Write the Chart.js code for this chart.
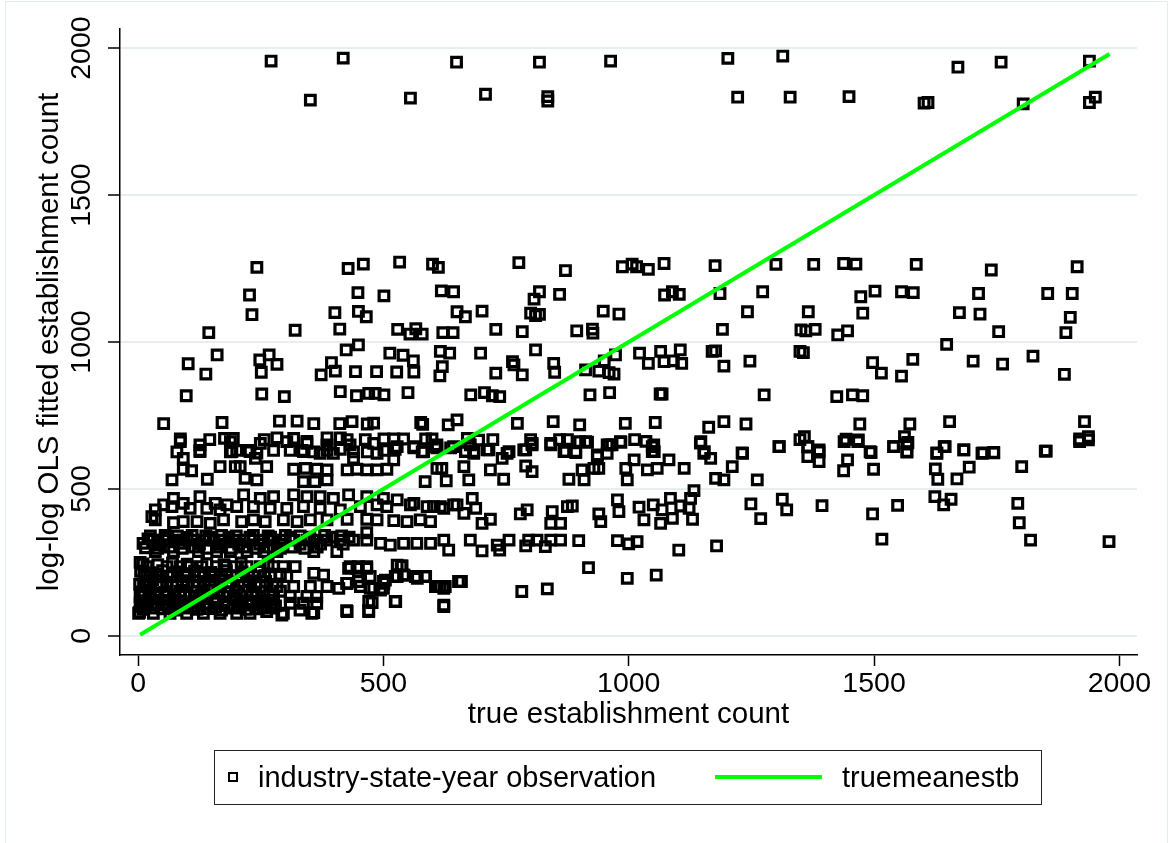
<!DOCTYPE html>
<html>
<head>
<meta charset="utf-8">
<script src="https://cdn.jsdelivr.net/npm/chart.js@4.4.0/dist/chart.umd.min.js"></script>
<style>
    html, body { margin: 0; padding: 0; background: #fff; overflow: hidden; }
    #wrap { position: relative; width: 1168px; height: 843px; }
    #frame { position: absolute; left: 5px; top: 1px; width: 1161px; height: 860px; border: 1px solid #e4ecef; }
    canvas { position: absolute; left: 0; top: 0; }
    #legend {
        position: absolute; left: 214px; top: 750px; width: 826px; height: 53px;
        border: 1.5px solid #222; font: 29px 'Liberation Sans', Arial, sans-serif; color: #000;
    }
    #legend span { position: absolute; }
    .lg-marker { left: 13px; top: 21px; width: 6px; height: 6px; border: 2.4px solid #000; }
    .lg-text { top: 0; line-height: 53px; white-space: nowrap; }
    .lg-line { left: 500px; top: 24px; width: 107px; height: 4px; background: #00ff00; }
</style>
</head>
<body>
<div id="wrap">
    <div id="frame"></div>
    <canvas id="chart" width="1168" height="843"></canvas>
    <div id="legend">
        <span class="lg-marker"></span>
        <span class="lg-text" style="left:43px">industry-state-year observation</span>
        <span class="lg-line"></span>
        <span class="lg-text" style="left:627px">truemeanestb</span>
    </div>
</div>
<script>
// values, [true count, fitted count]
const topBand = [
    [271, 1956], [351, 1823], [418, 1966], [555, 1830], [649, 1952], [708, 1843], [818, 1952],
    [835, 1835], [835, 1820], [963, 1956], [1202, 1965], [1222, 1833], [1314, 1973], [1329, 1833],
    [1449, 1835], [1602, 1813], [1610, 1815], [1671, 1935], [1759, 1952], [1804, 1810], [1939, 1956],
    [1939, 1815], [1951, 1833]
];

const highBand = [
    [242, 1254], [428, 1250], [459, 1265], [533, 1272], [600, 1265], [612, 1254],
    [227, 1160], [448, 1168], [501, 1157], [618, 1174], [643, 1171],
    [232, 1093], [401, 1100], [449, 1104], [465, 1086], [650, 1103],
    [144, 1032], [320, 1040], [411, 1044], [529, 1043], [554, 1027], [566, 1045], [579, 1027], [621, 1032], [642, 1032],
    [161, 956], [102, 926], [138, 891], [248, 939], [267, 956], [283, 924], [251, 897], [424, 973], [449, 990],
    [394, 930], [373, 888], [402, 901], [443, 899], [486, 899], [527, 898], [562, 898], [513, 962], [540, 955],
    [561, 936], [616, 968], [635, 962], [620, 916], [615, 885],
    [98, 817], [252, 823], [298, 814], [412, 831], [445, 817], [470, 825], [483, 825], [501, 820], [550, 828],
    [776, 1270], [871, 1243], [987, 1256], [1007, 1265], [1016, 1256], [1040, 1247], [1072, 1267], [1176, 1260], [1300, 1264],
    [818, 1171], [807, 1146], [859, 1162], [1073, 1160], [1089, 1171], [1103, 1162], [1186, 1165], [1273, 1171],
    [701, 1105], [667, 1086], [800, 1098], [810, 1090], [818, 1094], [948, 1105], [980, 1095], [1242, 1103],
    [729, 1043], [783, 1035], [894, 1038], [926, 1044], [927, 1030], [1191, 1043], [1351, 1041],
    [698, 962], [810, 973], [763, 933], [766, 922], [783, 888], [729, 894], [847, 927], [849, 897], [912, 905],
    [939, 901], [950, 936], [960, 896], [970, 891], [973, 956], [1022, 962], [1040, 927], [1065, 968], [1072, 933],
    [1091, 936], [1105, 973], [1108, 927], [1170, 968], [1177, 970], [1194, 918], [1247, 935], [1349, 968],
    [678, 820], [706, 828], [722, 817], [737, 814], [921, 820], [961, 828], [1064, 823], [1068, 823], [1276, 820],
    [1377, 1264], [1438, 1267], [1463, 1265], [1586, 1264], [1739, 1245], [1914, 1256],
    [1473, 1154], [1502, 1173], [1556, 1171], [1580, 1168], [1713, 1165], [1854, 1165], [1904, 1165],
    [1366, 1103], [1477, 1098], [1674, 1100], [1716, 1095], [1900, 1084],
    [1361, 1038], [1380, 1043], [1426, 1024], [1446, 1038], [1754, 1035], [1891, 1032], [1648, 992],
    [1356, 964], [1497, 930], [1515, 894], [1556, 884], [1579, 941], [1702, 935], [1762, 925], [1824, 952], [1888, 890],
    [1424, 814], [1456, 820], [1477, 817]
];

const midBand = [
    [52, 722], [171, 726], [288, 731], [324, 731], [358, 722], [411, 722], [436, 729], [467, 721], [480, 724],
    [576, 726], [580, 720], [632, 718], [650, 735],
    [86, 670], [146, 668], [176, 672], [194, 672], [257, 668], [283, 674], [317, 672], [344, 662], [385, 674],
    [412, 674], [426, 668], [463, 668], [501, 670], [521, 670], [541, 670], [586, 670], [599, 670],
    [79, 626], [126, 631], [188, 626], [201, 631], [225, 631], [242, 622], [276, 631], [310, 631], [334, 631],
    [358, 626], [385, 631], [412, 635], [439, 626], [467, 626], [501, 631], [524, 635], [562, 640], [579, 626],
    [609, 640], [637, 640],
    [773, 723], [846, 729], [900, 718], [993, 723], [1054, 726], [1163, 710], [1194, 729], [1239, 721],
    [671, 672], [694, 666], [723, 668], [800, 668], [859, 668], [875, 668], [900, 661], [916, 659], [984, 659],
    [1012, 668], [1035, 662], [1146, 656], [1349, 668],
    [667, 627], [684, 627], [715, 633], [756, 627], [786, 633], [803, 655], [841, 655], [871, 627], [892, 627],
    [936, 616], [956, 650], [966, 650], [1048, 644], [1052, 627], [1154, 627], [1231, 623], [1307, 644],
    [1471, 721], [1573, 721], [1654, 729], [1929, 729],
    [1358, 678], [1443, 669], [1468, 667], [1562, 678], [1569, 658], [1919, 670], [1937, 678],
    [1365, 644], [1388, 633], [1492, 627], [1540, 644], [1567, 627], [1628, 623], [1645, 644], [1683, 633],
    [1722, 623], [1744, 623], [1849, 629],
    [86, 661], [126, 650], [188, 661], [249, 655], [303, 661], [344, 655], [385, 650], [432, 650], [480, 655],
    [528, 644], [562, 644], [609, 650], [643, 644],
    [92, 604], [126, 627], [191, 627], [228, 627], [239, 604], [337, 627], [371, 621], [398, 621], [439, 604],
    [487, 621], [521, 599], [582, 627], [606, 644],
    [92, 567], [109, 562], [167, 576], [198, 576], [208, 576], [262, 576], [317, 567], [341, 570], [364, 567],
    [385, 565], [426, 565], [446, 567], [466, 565], [487, 565], [507, 567], [609, 570], [619, 570],
    [69, 531], [141, 533], [218, 536], [242, 531], [337, 525], [360, 525], [385, 531], [585, 525], [628, 528],
    [677, 650], [711, 633], [752, 621], [790, 633], [803, 650], [841, 650], [868, 627], [892, 624], [912, 661],
    [936, 610], [956, 621], [960, 650], [983, 661], [1011, 599], [1048, 627], [1051, 650], [1082, 599],
    [1147, 661], [1153, 621], [1167, 604], [1232, 621], [1306, 644], [667, 627], [684, 621],
    [664, 576], [674, 531], [718, 565], [742, 604], [745, 533], [790, 578], [803, 559], [878, 533], [905, 565],
    [909, 531], [929, 570], [939, 570], [994, 570], [997, 531], [1038, 565], [1058, 570], [1113, 570],
    [1177, 536], [1194, 531], [1211, 576], [1262, 531],
    [1365, 644], [1365, 610], [1388, 627], [1388, 593], [1439, 661], [1467, 661], [1494, 624], [1446, 599],
    [1438, 562], [1499, 567], [1540, 644], [1567, 653], [1567, 625], [1628, 621], [1643, 644], [1683, 633],
    [1720, 621], [1744, 624], [1851, 629], [1919, 661], [1937, 667], [1625, 568], [1630, 533], [1669, 534],
    [1694, 574], [1801, 576]
];

const lowMidBand = [
    [52, 446], [72, 468], [92, 451], [126, 474], [157, 451], [181, 446], [215, 480], [249, 468], [276, 474],
    [317, 480], [344, 474], [371, 474], [398, 468], [429, 480], [466, 474], [500, 468], [528, 463], [562, 451],
    [589, 440], [616, 440], [643, 446],
    [35, 429], [69, 440], [106, 434], [140, 434], [167, 429], [201, 440], [235, 440], [269, 434], [303, 434],
    [337, 440], [371, 434], [412, 429], [453, 440], [487, 446], [507, 440], [555, 446], [602, 440], [623, 434],
    [650, 446],
    [35, 395], [72, 385], [92, 389], [120, 389], [147, 383], [174, 395], [211, 389], [235, 395], [259, 389],
    [296, 395], [324, 389], [351, 395], [385, 395], [426, 397], [466, 397], [487, 395], [521, 392], [548, 389],
    [575, 395], [596, 389], [28, 406],
    [681, 468], [688, 434], [664, 417], [701, 383], [718, 397], [779, 415], [793, 429], [844, 423], [841, 383],
    [861, 383], [875, 440], [885, 442], [939, 415], [943, 389], [977, 463], [980, 423], [1021, 438], [1031, 395],
    [1050, 446], [1065, 383], [1068, 429], [1085, 468], [1089, 400], [1106, 442], [1123, 434], [1130, 397],
    [1133, 494], [1126, 468], [1249, 449], [1269, 399], [1313, 465], [1322, 429],
    [1394, 443], [1497, 415], [1548, 444], [1624, 474], [1642, 446], [1657, 465], [1793, 451], [1796, 385]
];

const band320 = [
    [31, 326], [52, 326], [72, 326], [92, 326], [113, 326], [133, 326], [154, 326], [174, 326], [194, 326],
    [215, 326], [235, 326], [256, 326], [276, 326], [296, 326], [317, 326], [344, 326], [358, 326], [385, 326],
    [412, 326], [439, 326], [466, 326], [494, 315], [514, 309], [541, 315], [568, 315], [596, 315], [623, 326],
    [633, 292],
    [35, 287], [72, 287], [123, 287], [160, 287], [188, 287], [222, 287], [256, 287], [283, 287], [358, 287],
    [405, 287], [466, 351],
    [10, 315], [20, 330], [45, 310], [60, 335], [85, 315], [100, 335], [125, 312], [145, 336], [165, 312],
    [185, 336], [205, 312], [228, 336], [248, 312], [270, 336], [290, 312], [310, 336], [330, 312], [350, 336],
    [372, 312], [395, 336], [418, 312], [430, 336],
    [15, 300], [40, 298], [65, 302], [90, 298], [115, 302], [140, 298], [165, 302], [190, 298], [215, 302],
    [240, 298], [265, 302], [290, 298], [315, 302], [340, 298], [365, 302],
    [25, 340], [55, 342], [80, 340], [110, 342], [138, 340], [170, 342], [200, 340], [235, 342], [265, 340],
    [300, 342], [330, 340], [380, 342], [415, 340],
    [677, 326], [701, 289], [732, 309], [737, 292], [756, 326], [790, 306], [796, 326], [813, 326], [830, 304],
    [841, 326], [861, 326], [898, 324], [977, 324], [1000, 313], [1017, 321], [1102, 292], [1179, 306],
    [1516, 329], [1819, 326], [1979, 321]
];

const lowBand = [
    [18, 236], [59, 236], [86, 236], [106, 236], [130, 236], [160, 236], [177, 236], [198, 236], [222, 236],
    [249, 236], [276, 236], [296, 236], [320, 236], [432, 236], [449, 236], [466, 236], [538, 238],
    [18, 202], [38, 202], [65, 202], [99, 202], [133, 202], [167, 202], [201, 202], [235, 202], [269, 202],
    [303, 202], [358, 213], [378, 207], [426, 179], [449, 202], [473, 202], [504, 190], [528, 202], [541, 207],
    [565, 202], [585, 202], [653, 185],
    [11, 168], [45, 168], [79, 168], [113, 168], [147, 168], [181, 168], [215, 168], [249, 168], [283, 168],
    [317, 168], [351, 168], [385, 168], [409, 162], [453, 168], [473, 162], [500, 162], [606, 168], [616, 168],
    [626, 168],
    [4, 134], [38, 134], [72, 134], [106, 134], [140, 134], [174, 134], [208, 134], [242, 134], [276, 134],
    [310, 134], [344, 134], [364, 134],
    [4, 111], [38, 111], [72, 111], [106, 111], [140, 111], [174, 111], [208, 111], [242, 111], [276, 111],
    [310, 111], [337, 111], [364, 111], [477, 113], [524, 117], [623, 105],
    [1, 77], [31, 77], [65, 77], [99, 77], [133, 77], [167, 77], [201, 77], [228, 77], [262, 83], [296, 77],
    [358, 79], [426, 83], [470, 83],
    [429, 230], [446, 230], [466, 230], [425, 179], [449, 185], [480, 162], [500, 185], [524, 202], [528, 241],
    [470, 117], [425, 86], [470, 86], [354, 77], [293, 71], [330, 88],
    [536, 238], [527, 202], [542, 207], [569, 196], [586, 202], [610, 168], [623, 162], [659, 185], [525, 117],
    [623, 100], [782, 151], [834, 160], [918, 232], [997, 196], [1056, 207], [501, 179], [494, 156],
    [10, 90], [28, 95], [50, 92], [75, 88], [95, 95], [120, 90], [145, 93], [170, 88], [195, 95], [220, 90],
    [245, 92], [270, 95],
    [8, 150], [25, 155], [55, 148], [85, 152], [118, 150], [150, 155], [185, 148], [220, 152], [255, 150], [290, 152],
    [15, 185], [30, 190], [58, 183], [90, 188], [122, 185], [155, 190], [190, 183], [225, 188], [260, 185],
    [5, 220], [25, 215], [50, 222], [80, 218], [115, 220], [148, 216], [180, 222], [212, 218], [245, 220],
    [5, 120], [22, 125], [48, 122], [88, 118], [125, 124], [160, 120], [195, 124], [230, 118], [265, 122],
    [3, 80], [6, 100], [3, 175], [4, 250],
    [15, 100], [40, 105], [62, 98], [85, 103], [110, 100], [135, 105], [158, 98], [182, 103], [205, 100],
    [232, 105], [255, 98], [280, 102],
    [12, 140], [35, 145], [60, 138], [95, 142], [128, 140], [162, 145], [198, 138], [232, 142], [268, 140],
    [20, 175], [45, 178], [70, 172], [100, 178], [135, 175], [168, 178], [205, 172], [240, 178], [275, 175],
    [12, 205], [40, 210], [70, 205], [95, 212], [125, 205], [155, 210], [190, 205], [225, 210], [258, 205], [290, 210],
    [10, 245], [40, 242], [70, 248], [100, 244], [140, 246], [175, 242], [210, 248], [265, 244]
];

// truemeanestb line (45 degree reference)
const lineX = [4, 1980];
const lineY = [4, 1980];

const xTicks = [0, 500, 1000, 1500, 2000];
const yTicks = [0, 500, 1000, 1500, 2000];

const observations = [...topBand, ...highBand, ...midBand, ...lowMidBand, ...band320, ...lowBand]
    .map(([x, y]) => ({ x, y }));

const tickFont = { family: "'Liberation Sans', Arial, sans-serif", size: 28.5 };
const titleFont = { family: "'Liberation Sans', Arial, sans-serif", size: 29.5 };

new Chart(document.getElementById('chart'), {
    type: 'scatter',
    data: {
        datasets: [
            {
                label: 'truemeanestb',
                data: lineX.map((x, i) => ({ x, y: lineY[i] })),
                showLine: true,
                borderColor: '#00ff00',
                borderWidth: 4,
                pointRadius: 0,
                order: 0
            },
            {
                label: 'industry-state-year observation',
                data: observations,
                pointStyle: 'rect',
                pointRadius: 6.8,
                borderWidth: 3.2,
                borderColor: '#000',
                backgroundColor: 'rgba(0,0,0,0)',
                order: 1
            }
        ]
    },
    options: {
        responsive: false,
        animation: false,
        devicePixelRatio: 1,
        layout: { padding: { left: 0, right: 31, top: 29, bottom: 98 } },
        plugins: { legend: { display: false }, tooltip: { enabled: false } },
        scales: {
            x: {
                type: 'linear',
                min: -37,
                max: 2036,
                afterBuildTicks: scale => { scale.ticks = xTicks.map(v => ({ value: v })); },
                afterFit: scale => { scale.height = 90; },
                grid: { drawOnChartArea: false, color: '#000', tickLength: 11, tickWidth: 1.5 },
                border: { color: '#000', width: 1.5 },
                ticks: { color: '#000', font: tickFont, padding: 1, maxRotation: 0, callback: v => String(v) },
                title: { display: true, text: 'true establishment count', color: '#000', font: titleFont, padding: { top: 0, bottom: 12 } }
            },
            y: {
                type: 'linear',
                min: -65,
                max: 2065,
                afterBuildTicks: scale => { scale.ticks = yTicks.map(v => ({ value: v })); },
                afterFit: scale => { scale.width = 120; },
                grid: { color: '#e6eef0', lineWidth: 2, tickColor: '#000', tickLength: 12, tickWidth: 1.5 },
                border: { color: '#000', width: 1.5 },
                ticks: { color: '#000', font: tickFont, padding: -6, minRotation: 90, maxRotation: 90, crossAlign: 'center', callback: v => String(v) },
                title: { display: true, text: 'log-log OLS fitted establishment count', color: '#000', font: titleFont, padding: { top: 32, bottom: 0 } }
            }
        }
    }
});
</script>
</body>
</html>
